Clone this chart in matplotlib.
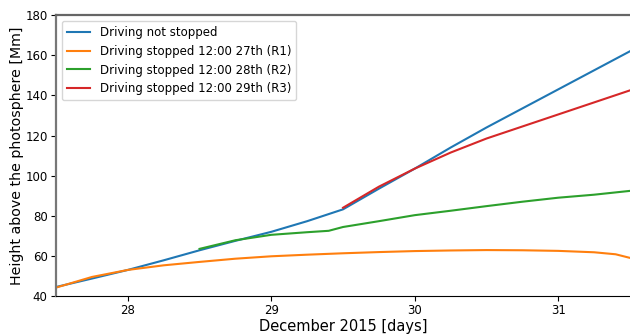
import numpy as np
import matplotlib
matplotlib.use("Agg")
import matplotlib.pyplot as plt

# 数据
x_blue = [27.5, 27.75, 28, 28.25, 28.5, 28.75, 29, 29.25, 29.5,
          29.75, 30, 30.25, 30.5, 30.75, 31, 31.25, 31.5]
y_blue = [44.5, 48.7, 53, 57.8, 62.8, 67.5, 72, 77.3, 83.2,
          93.5, 103.5, 114, 124, 133.5, 143, 152.5, 162]

x_r1 = [27.5, 27.75, 28, 28.25, 28.5, 28.75, 29, 29.25, 29.5, 29.75,
        30, 30.25, 30.5, 30.75, 31, 31.25, 31.4, 31.5]
y_r1 = [44.2, 49.5, 53, 55.3, 57, 58.6, 59.8, 60.6, 61.3, 61.9,
        62.4, 62.7, 62.9, 62.8, 62.5, 61.8, 60.8, 59]

x_r2 = [28.5, 28.75, 29, 29.25, 29.4, 29.5, 29.75, 30, 30.25,
        30.5, 30.75, 31, 31.25, 31.5]
y_r2 = [63.5, 67.8, 70.5, 71.8, 72.5, 74.4, 77.3, 80.3, 82.5,
        84.8, 87, 89, 90.5, 92.4]

x_r3 = [29.5, 29.75, 30, 30.25, 30.5, 30.75, 31, 31.25, 31.5]
y_r3 = [84, 94.5, 103.5, 111.5, 118.5, 124.5, 130.5, 136.5, 142.5]

labels = ["Driving not stopped",
          "Driving stopped 12:00 27th (R1)",
          "Driving stopped 12:00 28th (R2)",
          "Driving stopped 12:00 29th (R3)"]

fig = plt.figure(figsize=(6.3, 3.36), dpi=100)
ax = fig.add_axes([0.089, 0.119, 0.911, 0.836])

ax.plot(x_blue, y_blue, color="#1f77b4", lw=1.5, label=labels[0])
ax.plot(x_r1, y_r1, color="#ff7f0e", lw=1.5, label=labels[1])
ax.plot(x_r2, y_r2, color="#2ca02c", lw=1.5, label=labels[2])
ax.plot(x_r3, y_r3, color="#d62728", lw=1.5, label=labels[3])

ax.set_xlim(27.5, 31.5)
ax.set_ylim(40, 180)
ax.set_xticks([28, 29, 30, 31])
ax.set_yticks(np.arange(40, 181, 20))
ax.tick_params(labelsize=8.5, pad=2.5)

ax.set_xlabel("December 2015 [days]", fontsize=10.5, labelpad=1)
ax.set_ylabel("Height above the photosphere [Mm]", fontsize=10.2, labelpad=1)

ax.spines["right"].set_visible(False)
ax.spines["top"].set_color("#666666")
ax.spines["top"].set_linewidth(1.6)
ax.spines["left"].set_color("#777777")
ax.spines["left"].set_linewidth(1.6)
ax.spines["bottom"].set_color("black")

ax.legend(loc="upper left", fontsize=8.5)

fig.savefig("out.png", dpi=100)
